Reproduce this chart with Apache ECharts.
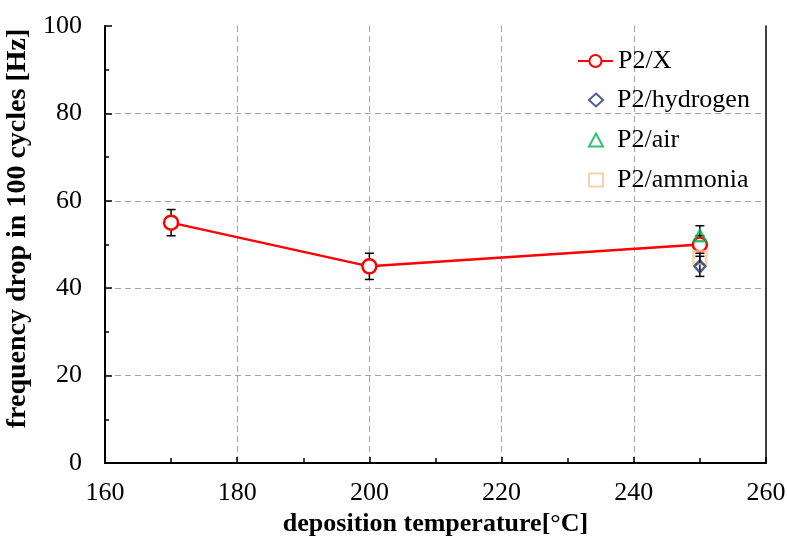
<!DOCTYPE html>
<html>
<head>
<meta charset="utf-8">
<script src="https://cdn.jsdelivr.net/npm/echarts@6/dist/echarts.min.js"></script>
<style>
  html, body { margin: 0; padding: 0; background: #fff; }
  #chart { width: 787px; height: 536px; }
</style>
</head>
<body>
<div id="chart"></div>
<script>
// P2/X series
var xTemps = [170, 200, 250];
var xValues = [55, 45, 50];
var xErrors = [3, 3, 2];

// single-point series at 250 °C
var hydrogenValue = [[250, 45]];
var hydrogenError = [2.3];
var airValue = [[250, 52]];
var airError = [2.3];
var ammoniaValue = [[250, 47]];
var ammoniaError = [1.5];

var serif = '"Liberation Serif", "DejaVu Serif", serif';

var chart = echarts.init(document.getElementById('chart'));

// error bar rows: [x, low, high]
var errRows = [];
xTemps.forEach(function (t, i) {
    errRows.push([t, xValues[i] - xErrors[i], xValues[i] + xErrors[i]]);
});
errRows.push([hydrogenValue[0][0], hydrogenValue[0][1] - hydrogenError[0], hydrogenValue[0][1] + hydrogenError[0]]);
errRows.push([airValue[0][0], airValue[0][1] - airError[0], airValue[0][1] + airError[0]]);
errRows.push([ammoniaValue[0][0], ammoniaValue[0][1] - ammoniaError[0], ammoniaValue[0][1] + ammoniaError[0]]);

function renderErr(params, api) {
    var lo = api.coord([api.value(0), api.value(1)]);
    var hi = api.coord([api.value(0), api.value(2)]);
    var w = 4.5;
    var style = { stroke: '#000', lineWidth: 1.5 };
    return {
        type: 'group',
        children: [
            { type: 'line', shape: { x1: lo[0], y1: lo[1], x2: hi[0], y2: hi[1] }, style: style },
            { type: 'line', shape: { x1: lo[0] - w, y1: lo[1], x2: lo[0] + w, y2: lo[1] }, style: style },
            { type: 'line', shape: { x1: hi[0] - w, y1: hi[1], x2: hi[0] + w, y2: hi[1] }, style: style }
        ]
    };
}

var gridLine = { show: true, showMinLine: false, showMaxLine: false, lineStyle: { color: '#a6a6a6', type: [6, 4], width: 1 } };
var legendText = { fontFamily: serif, fontSize: 26, color: '#000', lineHeight: 26 };

var option = {
    animation: false,
    grid: {
        left: 105,
        right: 21,
        top: 26,
        bottom: 73,
        outerBoundsMode: 'none',
        containLabel: false,
        show: false
    },
    legend: [
        {
            orient: 'vertical',
            left: 577,
            top: 48,
            padding: 0,
            itemWidth: 35,
            itemHeight: 15,
            data: ['P2/X'],
            textStyle: legendText
        },
        {
            orient: 'vertical',
            left: 588,
            top: 87,
            padding: 0,
            itemWidth: 14,
            itemHeight: 13,
            itemGap: 14,
            data: ['P2/hydrogen', 'P2/air', 'P2/ammonia'],
            textStyle: Object.assign({ padding: [0, 0, 0, 9] }, legendText)
        }
    ],
    xAxis: [
        {
            type: 'value',
            min: 160,
            max: 260,
            interval: 20,
            name: 'deposition temperature[°C]',
            nameLocation: 'middle',
            nameGap: 46,
            nameTextStyle: { fontFamily: serif, fontSize: 26, fontWeight: 'bold', color: '#000' },
            axisLine: { lineStyle: { color: '#000', width: 2 } },
            axisTick: { inside: true, length: 6, lineStyle: { color: '#000', width: 1.5 } },
            minorTick: { show: true, splitNumber: 2, length: 5, lineStyle: { color: '#000', width: 1.5 } },
            axisLabel: { fontFamily: serif, fontSize: 26, color: '#000', margin: 17 },
            splitLine: gridLine
        },
        {
            type: 'value',
            position: 'top',
            min: 160,
            max: 260,
            axisLine: { show: true, lineStyle: { color: '#000', width: 1.5 } },
            axisTick: { show: false },
            axisLabel: { show: false },
            splitLine: { show: false }
        }
    ],
    yAxis: [
        {
            type: 'value',
            min: 0,
            max: 100,
            interval: 20,
            name: 'frequency drop in 100 cycles [Hz]',
            nameLocation: 'middle',
            nameGap: 70,
            nameTextStyle: { fontFamily: serif, fontSize: 28, fontWeight: 'bold', color: '#000', padding: [0, 0, 0, 32] },
            axisLine: { lineStyle: { color: '#000', width: 2 } },
            axisTick: { inside: true, length: 7, lineStyle: { color: '#000', width: 1.5 } },
            minorTick: { show: true, splitNumber: 2, length: 4, lineStyle: { color: '#000', width: 1.5 } },
            axisLabel: { fontFamily: serif, fontSize: 26, color: '#000', margin: 23 },
            splitLine: gridLine
        },
        {
            type: 'value',
            position: 'right',
            min: 0,
            max: 100,
            axisLine: { show: true, lineStyle: { color: '#000', width: 1.5 } },
            axisTick: { show: false },
            axisLabel: { show: false },
            splitLine: { show: false }
        }
    ],
    series: [
        {
            name: 'errors',
            type: 'custom',
            renderItem: renderErr,
            data: errRows,
            z: 1,
            silent: true
        },
        {
            name: 'P2/X',
            type: 'line',
            data: xTemps.map(function (t, i) { return [t, xValues[i]]; }),
            symbol: 'circle',
            symbolSize: 14,
            showAllSymbol: true,
            lineStyle: { color: '#ff0000', width: 2.5 },
            itemStyle: { color: '#fff', borderColor: '#ff0000', borderWidth: 2.5 },
            z: 3
        },
        {
            name: 'P2/ammonia',
            type: 'scatter',
            data: ammoniaValue,
            symbol: 'rect',
            symbolSize: 13,
            itemStyle: { color: 'rgba(255,255,255,0)', borderColor: '#f8c497', borderWidth: 2.5 },
            z: 4
        },
        {
            name: 'P2/hydrogen',
            type: 'scatter',
            data: hydrogenValue,
            symbol: 'diamond',
            symbolSize: [11, 12],
            itemStyle: { color: 'rgba(255,255,255,0)', borderColor: '#1f3874', borderWidth: 2.5 },
            z: 4
        },
        {
            name: 'P2/air',
            type: 'scatter',
            data: airValue,
            symbol: 'triangle',
            symbolSize: [12, 11],
            itemStyle: { color: 'rgba(255,255,255,0)', borderColor: '#00b050', borderWidth: 2.5 },
            z: 5
        }
    ]
};

chart.setOption(option);
</script>
</body>
</html>
